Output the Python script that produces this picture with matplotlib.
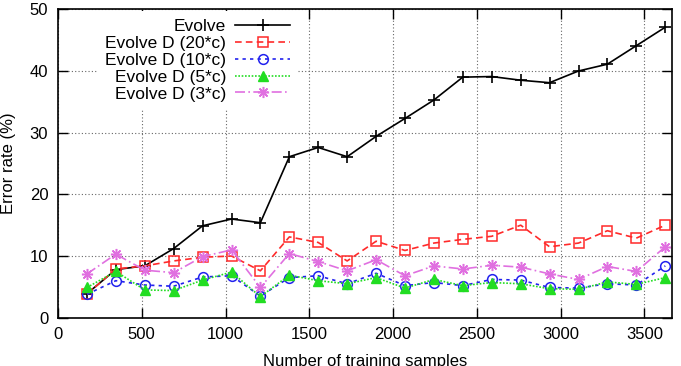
import numpy as np
import matplotlib.pyplot as plt

plt.rcParams['font.family'] = ['Liberation Sans', 'DejaVu Sans']

# training set sizes
samples = [173, 345, 518, 690, 863, 1036, 1208, 1381, 1553, 1726, 1899,
           2071, 2244, 2416, 2589, 2762, 2934, 3107, 3279, 3452, 3625]

evolve = [3.9, 7.8, 8.4, 11.2, 14.9, 16.0, 15.4, 26.1, 27.6, 26.1, 29.4,
          32.3, 35.3, 39.0, 39.1, 38.5, 38.1, 40.0, 41.1, 44.1, 47.1]
evolve_d20 = [3.8, 7.9, 8.4, 9.2, 9.8, 10.0, 7.6, 13.1, 12.2, 9.2, 12.4,
              10.9, 12.1, 12.7, 13.2, 15.0, 11.5, 12.1, 14.1, 12.9, 15.0]
evolve_d10 = [3.8, 6.0, 5.3, 5.1, 6.6, 6.8, 3.5, 6.5, 6.8, 5.5, 7.2,
              5.2, 5.7, 5.2, 6.2, 6.1, 4.9, 4.8, 5.5, 5.3, 8.4]
evolve_d5 = [4.9, 7.5, 4.5, 4.4, 6.1, 7.4, 3.4, 6.9, 6.0, 5.5, 6.5,
             4.8, 6.2, 5.2, 5.7, 5.5, 4.7, 4.6, 5.8, 5.4, 6.5]
evolve_d3 = [7.1, 10.3, 7.7, 7.3, 9.9, 11.0, 4.9, 10.4, 9.1, 7.6, 9.4,
             6.8, 8.4, 7.9, 8.5, 8.2, 7.1, 6.2, 8.3, 7.5, 11.5]

fig = plt.figure(figsize=(6.81, 3.66), dpi=100)
ax = fig.add_axes([58 / 681, 1 - 317.7 / 366, 614 / 681, 308.4 / 366])

ax.plot(samples, evolve, color='black', linestyle='-', lw=1.2,
        marker='+', ms=8, mew=1.2, label='Evolve')
ax.plot(samples, evolve_d20, color='#ff2a2a', linestyle=(0, (4, 2.5)), lw=1.2,
        marker='s', ms=7, mfc='none', mew=1.1, label='Evolve D (20*c)')
ax.plot(samples, evolve_d10, color='#2222ee', linestyle=(0, (2, 2.5)), lw=1.2,
        marker='o', ms=7, mfc='none', mew=1.1, label='Evolve D (10*c)')
ax.plot(samples, evolve_d5, color='#22dd22', linestyle=(0, (1, 1)), lw=1.2,
        marker='^', ms=7, label='Evolve D (5*c)')
ax.plot(samples, evolve_d3, color='#e070e0', linestyle=(0, (6, 2, 1, 2)), lw=1.2,
        marker=(8, 2, 0), ms=8, mew=1.1, label='Evolve D (3*c)')

ax.set_xlim(0, 3665)
ax.set_ylim(0, 50)
ax.set_xticks(np.arange(0, 3501, 500))
ax.set_yticks(np.arange(0, 51, 10))
ax.grid(True, color='#666666', linestyle=(0, (1, 2)), lw=0.8)
ax.tick_params(direction='in', top=True, right=True, length=7, width=1,
               labelsize=12, pad=7)
for s in ax.spines.values():
    s.set_linewidth(1.2)

ax.set_ylabel('Error rate (%)', fontsize=12, labelpad=10)
ax.set_xlabel('Number of training samples', fontsize=12, labelpad=8)

leg = ax.legend(loc='upper right', bbox_to_anchor=((300 - 58) / 614, 1.0),
                markerfirst=False, frameon=True, fontsize=12.5,
                handlelength=3.2, handletextpad=0.5,
                labelspacing=0.1, borderaxespad=0.1, borderpad=0.45)
leg.get_frame().set_facecolor('white')
leg.get_frame().set_edgecolor('none')
leg.get_frame().set_alpha(1)
for t in leg.get_texts():
    t.set_ha('right')
leg._legend_box.align = 'right'

fig.savefig('out.png', dpi=100)
